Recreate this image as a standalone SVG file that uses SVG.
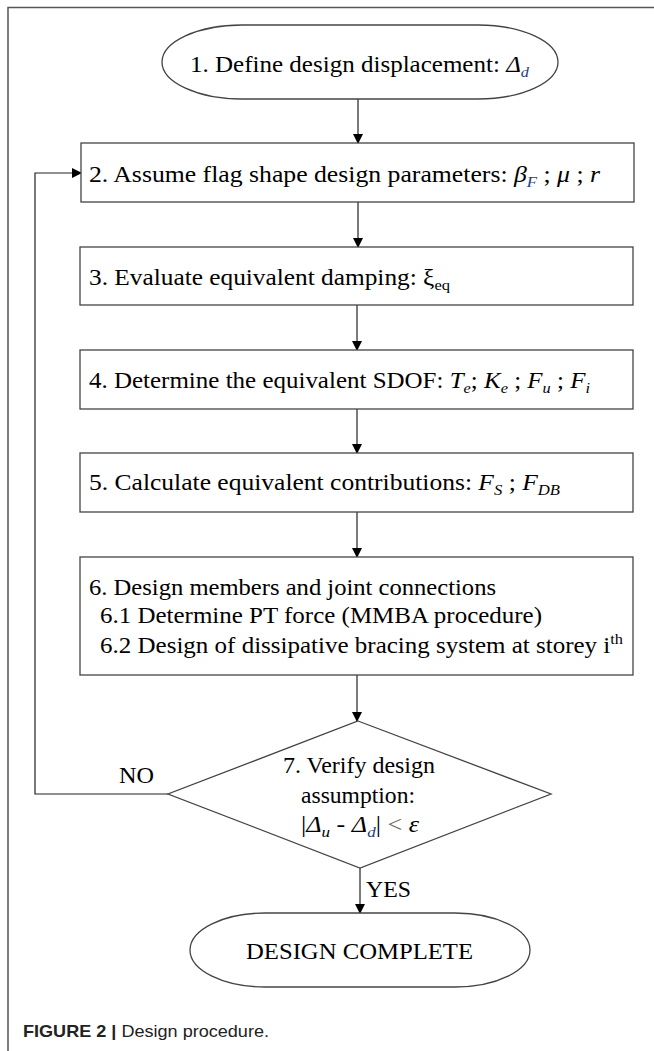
<svg xmlns="http://www.w3.org/2000/svg" width="654" height="1051" viewBox="0 0 654 1051">
<style>
.shape{fill:#fff;stroke:#444;stroke-width:1.3}
.t{font-family:"Liberation Serif","Times New Roman",serif;font-size:23px;fill:#000}
.i{font-style:italic}
.s{font-size:15px}
.b{fill:#23407e}
.c{stroke:#222;stroke-width:1.2;fill:none}
.cap{font-family:"Liberation Sans",Arial,sans-serif;font-size:17px;fill:#222}
</style>
<defs>
<marker id="ah" markerUnits="userSpaceOnUse" markerWidth="10" markerHeight="12" refX="9" refY="5" orient="auto">
<path d="M0,0 L10,5 L0,10 z" fill="#000"/>
</marker>
</defs>
<rect width="654" height="1051" fill="#fff"/>
<path d="M8,1051 L8,7.5 L654,7.5" fill="none" stroke="#555" stroke-width="1.5"/>

<g id="connectors">
<line class="c" x1="358" y1="99" x2="358" y2="143" marker-end="url(#ah)"/>
<line class="c" x1="358" y1="202" x2="358" y2="247" marker-end="url(#ah)"/>
<line class="c" x1="357" y1="305" x2="357" y2="350" marker-end="url(#ah)"/>
<line class="c" x1="357" y1="409" x2="357" y2="453" marker-end="url(#ah)"/>
<line class="c" x1="357" y1="512" x2="357" y2="557" marker-end="url(#ah)"/>
<line class="c" x1="357" y1="675" x2="357" y2="721" marker-end="url(#ah)"/>
<polyline class="c" points="168,794 35,794 35,173 81,173" marker-end="url(#ah)"/>
<line class="c" x1="360" y1="868" x2="360" y2="913" marker-end="url(#ah)"/>
<text class="t" x="119" y="783" textLength="35" lengthAdjust="spacingAndGlyphs">NO</text>
<text class="t" x="366" y="897" textLength="45" lengthAdjust="spacingAndGlyphs">YES</text>
</g>

<g id="n1">
<rect class="shape" x="162" y="25" width="396" height="74" rx="80" ry="37"/>
<text class="t" x="190" y="72" textLength="339" lengthAdjust="spacingAndGlyphs">1. Define design displacement:  <tspan class="i">Δ</tspan><tspan class="i s b" dy="5">d</tspan></text>
</g>

<g id="n2">
<rect class="shape" x="81" y="143" width="553" height="59"/>
<text class="t" x="89" y="182" textLength="511" lengthAdjust="spacingAndGlyphs">2. Assume flag shape design parameters: <tspan class="i">β</tspan><tspan class="i s b" dy="5">F</tspan><tspan dy="-5"> ;  </tspan><tspan class="i">μ</tspan> ;  <tspan class="i">r</tspan></text>
</g>

<g id="n3">
<rect class="shape" x="80" y="247" width="553" height="58"/>
<text class="t" x="89" y="285" textLength="361" lengthAdjust="spacingAndGlyphs">3. Evaluate equivalent damping:  ξ<tspan class="s" dy="5">eq</tspan></text>
</g>

<g id="n4">
<rect class="shape" x="80" y="350" width="553" height="59"/>
<text class="t" x="89" y="388" textLength="501" lengthAdjust="spacingAndGlyphs">4. Determine the equivalent SDOF: <tspan class="i">T</tspan><tspan class="i s" dy="5">e</tspan><tspan dy="-5">; </tspan><tspan class="i">K</tspan><tspan class="i s" dy="5">e</tspan><tspan dy="-5"> ; </tspan><tspan class="i">F</tspan><tspan class="i s" dy="5">u</tspan><tspan dy="-5"> ; </tspan><tspan class="i">F</tspan><tspan class="i s" dy="5">i</tspan></text>
</g>

<g id="n5">
<rect class="shape" x="80" y="453" width="553" height="59"/>
<text class="t" x="89" y="490" textLength="471" lengthAdjust="spacingAndGlyphs">5. Calculate equivalent contributions:  <tspan class="i">F</tspan><tspan class="i s" dy="5">S</tspan><tspan dy="-5"> ;  </tspan><tspan class="i">F</tspan><tspan class="i s" dy="5">DB</tspan></text>
</g>

<g id="n6">
<rect class="shape" x="80" y="557" width="553" height="118"/>
<text class="t" x="89" y="595" textLength="407" lengthAdjust="spacingAndGlyphs">6. Design members and joint connections</text>
<text class="t" x="100" y="623" textLength="442" lengthAdjust="spacingAndGlyphs">6.1 Determine PT force (MMBA procedure)</text>
<text class="t" x="100" y="653" textLength="523" lengthAdjust="spacingAndGlyphs">6.2 Design of dissipative bracing system at storey i<tspan class="s" dy="-9">th</tspan></text>
</g>

<g id="n7">
<polygon class="shape" points="358,721 551,794 360,868 168,794"/>
<text class="t" x="283" y="773" textLength="152" lengthAdjust="spacingAndGlyphs">7. Verify design</text>
<text class="t" x="301" y="803" textLength="114" lengthAdjust="spacingAndGlyphs">assumption:</text>
<text class="t" x="301" y="832" textLength="118" lengthAdjust="spacingAndGlyphs">|<tspan class="i">Δ</tspan><tspan class="i s" dy="5">u</tspan><tspan dy="-5"> - </tspan><tspan class="i">Δ</tspan><tspan class="i s b" dy="5">d</tspan><tspan dy="-5">| </tspan><tspan fill="#666">&lt;</tspan> <tspan class="i">ε</tspan></text>
</g>

<g id="n8">
<rect class="shape" x="190" y="913" width="340" height="74" rx="75" ry="37"/>
<text class="t" x="246" y="959" textLength="227" lengthAdjust="spacingAndGlyphs">DESIGN COMPLETE</text>
</g>

<text class="cap" x="23" y="1037" textLength="246" lengthAdjust="spacingAndGlyphs"><tspan font-weight="bold">FIGURE 2 |</tspan> Design procedure.</text>
</svg>
